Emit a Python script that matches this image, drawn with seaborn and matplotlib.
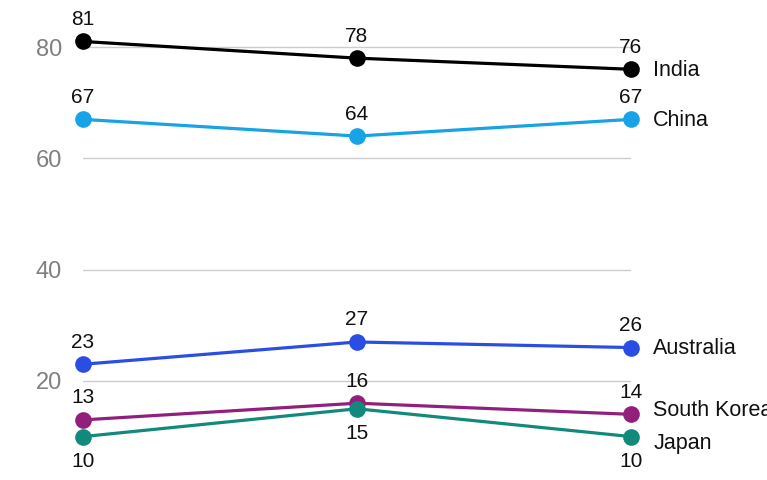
import matplotlib
matplotlib.use('Agg')
import matplotlib.pyplot as plt
import pandas as pd
import seaborn as sns

# three survey waves (no axis labels shown on the chart)
waves = [0, 1, 2]
countries = ['India', 'China', 'Australia', 'South Korea', 'Japan']
india = [81, 78, 76]
china = [67, 64, 67]
australia = [23, 27, 26]
south_korea = [13, 16, 14]
japan = [10, 15, 10]
y_ticks = [20, 40, 60, 80]

colors = {
    'India': '#000000',
    'China': '#17a3e6',
    'Australia': '#2a4ee3',
    'South Korea': '#921f7c',
    'Japan': '#128a7b',
}
# value labels go below the markers for Japan only
label_below = {'Japan'}
# nudge the end labels a little so South Korea / Japan do not collide
name_nudge = {'South Korea': 4, 'Japan': -4}

series = dict(zip(countries, [india, china, australia, south_korea, japan]))
rows = []
for name, vals in series.items():
    for w, v in zip(waves, vals):
        rows.append({'wave': w, 'value': v, 'country': name})
df = pd.DataFrame(rows)

sns.set_style('white')
plt.rcParams['font.family'] = ['Liberation Sans', 'DejaVu Sans']

fig = plt.figure(figsize=(7.67, 4.8), dpi=100)
ax = fig.add_axes([83 / 767, 0, 548 / 767, 1])

sns.lineplot(data=df, x='wave', y='value', hue='country', palette=colors,
             hue_order=countries, marker='o', markersize=12, markeredgewidth=0,
             linewidth=2.3, legend=False, ax=ax, clip_on=False, zorder=3)

ax.set_xlim(0, 2)
ax.set_ylim(2.2, 88.45)
for t in y_ticks:
    ax.axhline(t, color='#cccccc', linewidth=1, zorder=1)
ax.set_yticks(y_ticks)
ax.set_yticklabels([str(t) for t in y_ticks], color='#808080', fontsize=17)
ax.tick_params(axis='y', length=0, pad=15)
ax.set_xticks([])
ax.set_xlabel('')
ax.set_ylabel('')
sns.despine(ax=ax, left=True, bottom=True)

for name, vals in series.items():
    for w, v in zip(waves, vals):
        if name in label_below:
            ax.annotate(str(v), (w, v), xytext=(0, -11), textcoords='offset points',
                        ha='center', va='top', fontsize=15, color='#111111')
        else:
            ax.annotate(str(v), (w, v), xytext=(0, 9), textcoords='offset points',
                        ha='center', va='bottom', fontsize=15, color='#111111')
    ax.annotate(name, (waves[-1], vals[-1]),
                xytext=(16, -1 + name_nudge.get(name, 0)), textcoords='offset points',
                ha='left', va='center', fontsize=15.5, color='#111111',
                annotation_clip=False)

fig.savefig('out.png', dpi=100)
